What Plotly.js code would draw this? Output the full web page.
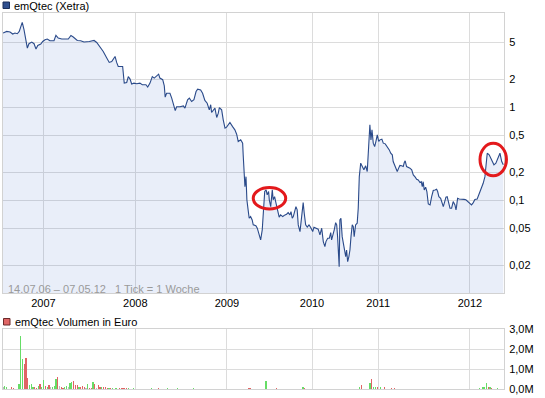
<!DOCTYPE html>
<html><head><meta charset="utf-8">
<script src="https://cdn.plot.ly/plotly-3.0.1.min.js"></script>
<style>html,body{margin:0;padding:0;background:#fff}#chart{width:545px;height:398px}</style>
</head><body><div id="chart"></div>
<script>
// ---- data (week index since 14.07.06, 1 tick = 1 week) ----
const priceIdx = [0.0,2.1,4.0,5.5,6.8,8.1,9.2,10.2,10.9,11.9,13.0,13.8,14.7,16.3,17.6,18.7,19.7,21.4,22.5,23.8,25.1,26.6,28.9,30.0,31.3,33.3,37.0,38.5,39.8,42.1,44.0,45.9,48.9,51.6,53.1,55.0,56.8,58.8,60.2,61.6,62.5,63.5,64.4,65.3,67.8,68.7,70.1,71.0,72.0,72.9,74.2,75.8,77.6,78.9,81.0,82.0,83.3,84.6,85.7,87.4,88.2,88.9,90.5,91.4,91.9,92.7,94.6,95.6,96.5,97.6,98.4,100.3,102.2,103.1,104.6,105.6,106.9,108.2,109.4,110.3,112.0,113.1,114.4,115.7,116.9,117.7,118.2,119.2,120.1,121.1,122.0,122.6,123.9,124.8,125.8,126.7,128.6,130.1,131.4,132.4,133.3,134.7,135.8,136.1,136.7,137.1,137.7,138.2,138.9,139.5,140.3,141.2,141.8,143.3,144.1,145.0,146.0,146.9,147.5,148.3,149.1,149.7,150.5,150.9,151.7,152.2,152.6,153.1,153.9,154.7,155.4,156.5,157.3,158.5,159.8,160.7,161.6,162.6,163.2,163.9,164.5,165.4,166.0,166.7,167.3,168.3,168.8,169.4,170.1,170.7,171.5,172.4,173.4,174.3,175.5,176.2,177.3,178.6,179.6,180.6,181.5,182.4,183.0,184.0,184.9,185.7,186.2,186.8,187.7,188.5,189.1,189.6,190.4,190.5,190.9,191.5,192.2,192.8,193.4,194.2,194.7,195.3,196.0,196.6,197.2,197.9,198.5,199.0,199.8,200.7,201.3,201.9,202.7,203.6,204.5,205.5,206.4,207.2,207.9,208.5,209.1,209.8,210.6,211.3,212.1,212.9,213.6,214.7,215.5,216.6,217.8,218.9,219.7,220.6,221.1,221.9,222.7,223.4,224.2,224.9,225.9,226.8,227.4,227.9,228.7,229.6,230.6,231.6,232.5,233.6,234.4,235.3,236.3,237.0,237.6,238.1,238.7,239.5,240.2,241.0,242.0,242.9,243.8,244.8,245.7,246.3,247.0,248.0,248.7,249.5,250.3,251.0,251.7,252.5,253.3,254.2,255.1,256.1,256.7,257.0,257.6,258.5,259.9,261.2,262.3,263.6,264.6,265.5,266.5,267.4,268.7,269.7,270.8,272.1,273.1,273.7,274.4,275.5,276.9,278.2,279.3,280.6,281.6,282.6,283.5];
const priceVal = [6.25,6.50,6.40,6.10,6.25,6.14,6.50,7.49,8.12,6.78,5.29,4.31,4.80,5.00,4.80,4.20,4.59,4.76,5.07,5.29,5.39,5.16,5.16,5.89,5.52,5.39,5.39,5.89,5.66,5.20,5.16,5.00,5.07,5.20,4.95,4.42,3.96,3.37,3.02,3.09,3.28,3.50,3.02,2.73,2.73,1.81,1.84,2.13,2.00,1.77,1.81,1.78,1.81,1.74,1.74,1.64,1.81,2.13,2.05,2.19,2.26,2.05,1.97,1.69,1.28,1.41,1.41,1.25,1.06,0.919,1.01,1.01,1.03,0.975,1.20,1.25,1.15,1.20,1.47,1.56,1.53,1.41,1.18,1.10,0.935,1.06,0.875,0.919,0.975,0.773,0.861,0.99,0.935,0.730,0.594,0.609,0.683,0.618,0.570,0.512,0.427,0.445,0.410,0.307,0.179,0.140,0.179,0.101,0.0787,0.0640,0.0667,0.0614,0.0543,0.0533,0.0500,0.0434,0.0374,0.0480,0.0787,0.124,0.129,0.114,0.124,0.101,0.0853,0.119,0.129,0.101,0.109,0.0928,0.0820,0.0657,0.0695,0.0667,0.0695,0.0707,0.0736,0.0695,0.0754,0.0640,0.0667,0.0787,0.0853,0.0787,0.0543,0.0460,0.0566,0.0820,0.0942,0.0725,0.0543,0.0513,0.0543,0.0513,0.0460,0.0513,0.0500,0.0488,0.0424,0.0500,0.0359,0.0317,0.0359,0.0390,0.0390,0.0448,0.0374,0.0406,0.0480,0.0574,0.0543,0.0406,0.0258,0.0193,0.0614,0.0640,0.0406,0.0345,0.0280,0.0248,0.0292,0.0219,0.0248,0.0292,0.0406,0.0543,0.0521,0.0406,0.0543,0.0566,0.0820,0.179,0.250,0.230,0.212,0.234,0.203,0.377,0.645,0.445,0.570,0.410,0.377,0.427,0.504,0.427,0.445,0.453,0.410,0.403,0.377,0.347,0.320,0.307,0.260,0.240,0.221,0.203,0.221,0.236,0.234,0.230,0.254,0.265,0.230,0.226,0.221,0.212,0.187,0.177,0.168,0.165,0.155,0.158,0.140,0.158,0.129,0.138,0.124,0.0912,0.0890,0.109,0.127,0.129,0.131,0.124,0.109,0.105,0.0966,0.0853,0.0966,0.108,0.109,0.0928,0.0820,0.0820,0.0966,0.0890,0.0787,0.0853,0.105,0.103,0.103,0.102,0.101,0.0966,0.0928,0.0890,0.0942,0.102,0.103,0.114,0.129,0.152,0.179,0.240,0.320,0.307,0.271,0.240,0.250,0.283,0.320,0.260,0.240];

const volIdx = [0,1,2,5,6,9,10,11,12,13,14,15,16,17,18,19,20,21,22,23,24,25,26,27,28,29,30,31,32,33,34,35,36,37,38,39,40,41,42,43,44,45,46,47,48,49,50,51,52,53,54,55,56,57,58,59,60,61,62,64,66,67,68,69,70,71,74,84,88,93,99,108,139,140,149,155,170,171,202,203,208,209,210,211,212,214,216,220,222,270,272,273,274,275,276,277,280];
const volVal = [0.1,0.15,0.1,0.1,0.05,0.23,2.65,1.5,1.25,1.55,0.55,0.2,0.25,0.1,0.1,0.05,0.15,0.25,0.1,0.45,0.15,0.1,0.2,0.1,0.1,0.15,0.5,0.6,0.15,0.1,0.05,0.1,0.15,0.1,0.3,0.35,0.4,0.2,0.2,0.1,0.1,0.15,0.1,0.05,0.25,0.05,0.05,0.35,0.25,0.05,0.2,0.1,0.1,0.1,0.1,0.05,0.05,0.05,0.05,0.05,0.05,0.05,0.05,0.05,0.05,0.05,0.05,0.05,0.05,0.04,0.04,0.06,0.05,0.05,0.42,0.04,0.08,0.04,0.1,0.2,0.3,0.52,0.08,0.1,0.1,0.1,0.08,0.05,0.05,0.05,0.1,0.08,0.28,0.12,0.08,0.05,0.05];
const volDir = [0,1,1,-1,-1,1,1,1,-1,-1,-1,1,1,1,-1,-1,1,-1,1,1,-1,1,-1,0,1,1,1,-1,0,-1,-1,1,1,0,1,1,-1,-1,-1,1,-1,-1,-1,0,1,-1,-1,1,-1,0,-1,-1,1,-1,-1,-1,1,-1,1,1,-1,-1,-1,-1,-1,1,1,1,-1,1,1,1,-1,-1,1,-1,1,-1,1,-1,1,-1,1,1,-1,1,-1,-1,-1,1,1,1,1,-1,1,-1,1];

const yearTickIdx = [22.9, 75.0, 126.9, 175.1, 212.6, 264.6];
const yearLabels = ['2007','2008','2009','2010','2011','2012'];
const priceTickVals = [5,2,1,0.5,0.2,0.1,0.05,0.02];
const priceTickText = ['5','2','1','0,5','0,2','0,1','0,05','0,02'];
const volTickVals = [0,1,2,3];
const volTickText = ['0,0M','1,0M','2,0M','3,0M'];
const highlightX = [[141.8,160.2],[270.3,285.3]];
const highlightY = [[0.0806,0.1366],[0.1834,0.408]];

// ---- layout ----
const W=545, H=398, M={l:3,r:41,t:13,b:9};
const X_RANGE=[0,283.9], Y_LOG=[-1.997,1.011];
const PRICE_DOM=[0.2553,1], VOL_DOM=[0,0.1588];
const pw=W-M.l-M.r, ph=H-M.t-M.b;
const pxX = x => (x-M.l)/pw;
const pxY = y => (H-M.b-y)/ph;
const dX = v => (v-X_RANGE[0])/(X_RANGE[1]-X_RANGE[0]);
const dY = v => PRICE_DOM[0]+(Math.log10(v)-Y_LOG[0])/(Y_LOG[1]-Y_LOG[0])*(PRICE_DOM[1]-PRICE_DOM[0]);

const GRID='#dcdcdc', LINE='#d2d2d2';
const FONT='"Liberation Sans", Arial, sans-serif';
const dirColor = d => d>0 ? '#66dd66' : (d<0 ? '#e06464' : '#bdbdbd');

const traces = [
  {x:[priceIdx[0],priceIdx[priceIdx.length-1]], y:[0.001,0.001], mode:'lines', line:{width:0}, hoverinfo:'skip', xaxis:'x', yaxis:'y'},
  {x:priceIdx, y:priceVal, mode:'lines', fill:'tonexty', fillcolor:'rgba(40,90,200,0.1)', line:{color:'#2a4a8a', width:1.1}, xaxis:'x', yaxis:'y'},
  {type:'bar', x:volIdx, y:volVal, width:0.7, marker:{color:volDir.map(dirColor), line:{width:0}}, xaxis:'x2', yaxis:'y2'}
];

const shapes = [
  {type:'rect', xref:'paper', yref:'paper', x0:pxX(3), x1:pxX(9.5), y0:pxY(8.5), y1:pxY(2), fillcolor:'#2f4f8f', line:{color:'#1a2f5a', width:1}},
  {type:'rect', xref:'paper', yref:'paper', x0:pxX(3.5), x1:pxX(10), y0:pxY(325), y1:pxY(318.5), fillcolor:'#e06666', line:{color:'#6b2a2a', width:1}}
];
highlightX.forEach((hx,i)=>{
  shapes.push({type:'circle', xref:'paper', yref:'paper', x0:dX(hx[0]), x1:dX(hx[1]), y0:dY(highlightY[i][0]), y1:dY(highlightY[i][1]), line:{color:'#e3191c', width:3}});
});

const annotations = [
  {xref:'paper', yref:'paper', x:pxX(12), y:pxY(6), xanchor:'left', yanchor:'middle', text:'emQtec (Xetra)', showarrow:false, font:{size:11, color:'#000'}},
  {xref:'paper', yref:'paper', x:pxX(13), y:pxY(322), xanchor:'left', yanchor:'middle', text:'emQtec Volumen in Euro', showarrow:false, font:{size:11, color:'#000'}},
  {xref:'paper', yref:'paper', x:pxX(6), y:pxY(288.5), xanchor:'left', yanchor:'middle', text:'14.07.06 \u2013 07.05.12\u00a0\u00a0\u00a01 Tick = 1 Woche', showarrow:false, font:{size:11, color:'#9a9a9a'}}
];

const axCommon = {showgrid:true, gridcolor:GRID, gridwidth:1, zeroline:false, showline:true, mirror:true, linecolor:LINE, linewidth:1, ticks:'', fixedrange:true};

const layout = {
  width:W, height:H, margin:M, paper_bgcolor:'#fff', plot_bgcolor:'#fff', showlegend:false,
  font:{family:FONT, size:11, color:'#000'},
  xaxis:Object.assign({}, axCommon, {domain:[0,1], anchor:'y', range:X_RANGE, tickmode:'array', tickvals:yearTickIdx, ticktext:yearLabels}),
  yaxis:Object.assign({}, axCommon, {domain:PRICE_DOM, anchor:'x', type:'log', range:Y_LOG, side:'right', tickmode:'array', tickvals:priceTickVals, ticktext:priceTickText, ticklabelstandoff:2}),
  xaxis2:Object.assign({}, axCommon, {domain:[0,1], anchor:'y2', range:X_RANGE, tickmode:'array', tickvals:yearTickIdx, showticklabels:false}),
  yaxis2:Object.assign({}, axCommon, {domain:VOL_DOM, anchor:'x2', range:[0,3], side:'right', tickmode:'array', tickvals:volTickVals, ticktext:volTickText, ticklabelstandoff:2}),
  bargap:0,
  shapes:shapes, annotations:annotations
};

Plotly.newPlot('chart', traces, layout, {staticPlot:true, displayModeBar:false});
</script></body></html>
